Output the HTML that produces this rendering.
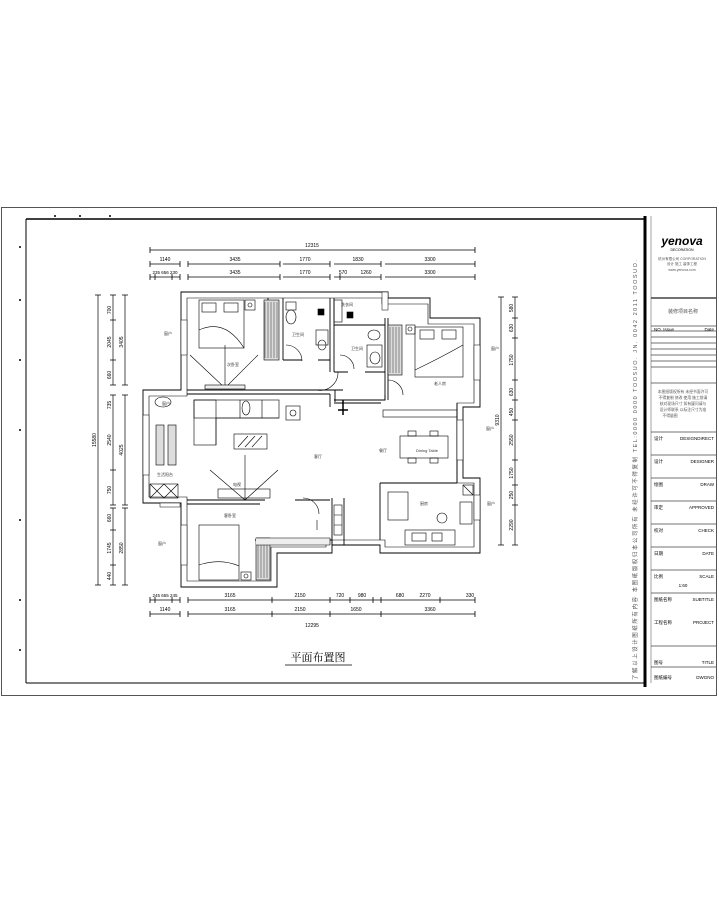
<!DOCTYPE html>
<html><head><meta charset="utf-8"><style>
html,body{margin:0;padding:0;background:#fff;}
svg{display:block;font-family:"Liberation Sans","Noto Sans CJK SC",sans-serif;}
</style></head><body>
<svg width="719" height="900" viewBox="0 0 719 900" xmlns="http://www.w3.org/2000/svg">
<rect width="719" height="900" fill="#fff"/>
<!-- frames -->
<rect x="1.5" y="207.5" width="715" height="488" fill="none" stroke="#555" stroke-width="1"/>
<line x1="26" y1="219" x2="645" y2="219" stroke="#000" stroke-width="1.5"/>
<line x1="26" y1="219" x2="26" y2="683" stroke="#000" stroke-width="1"/>
<line x1="26" y1="683" x2="645" y2="683" stroke="#000" stroke-width="1"/>
<line x1="645" y1="216" x2="645" y2="687" stroke="#000" stroke-width="3"/>
<line x1="651" y1="216" x2="651" y2="683" stroke="#666" stroke-width="0.6"/>
<g fill="#000"><circle cx="55" cy="216" r="1"/><circle cx="80" cy="216" r="1"/><circle cx="110" cy="216" r="1"/><circle cx="20" cy="247" r="1"/><circle cx="20" cy="300" r="1"/><circle cx="20" cy="360" r="1"/><circle cx="20" cy="430" r="1"/><circle cx="20" cy="520" r="1"/><circle cx="20" cy="600" r="1"/><circle cx="20" cy="650" r="1"/></g>
<!-- vertical text strip -->
<text transform="translate(637,680) rotate(-90)" font-size="5.5" fill="#555" textLength="420">了解以上设计图纸所有内容 本图纸版权归本公司所有 未经许可不得复制 TEL:0000 0000 TOOSUO. JN. 0042 2011 TOOSUO.</text>
<!-- title block -->
<g stroke="#444" stroke-width="0.8">
<line x1="651" y1="298" x2="716" y2="298" stroke-width="1.5"/>
<line x1="651" y1="326" x2="716" y2="326"/>
<line x1="651" y1="331" x2="716" y2="331"/>
<line x1="651" y1="337" x2="716" y2="337"/>
<line x1="651" y1="343" x2="716" y2="343"/>
<line x1="651" y1="349" x2="716" y2="349"/>
<line x1="651" y1="355" x2="716" y2="355"/>
<line x1="651" y1="361" x2="716" y2="361"/>
<line x1="651" y1="367" x2="716" y2="367"/>
<line x1="651" y1="383" x2="716" y2="383"/>
<line x1="651" y1="432" x2="716" y2="432"/>
<line x1="651" y1="455" x2="716" y2="455"/>
<line x1="651" y1="478" x2="716" y2="478"/>
<line x1="651" y1="501" x2="716" y2="501"/>
<line x1="651" y1="524" x2="716" y2="524"/>
<line x1="651" y1="547" x2="716" y2="547"/>
<line x1="651" y1="570" x2="716" y2="570"/>
<line x1="651" y1="593" x2="716" y2="593"/>
<line x1="651" y1="646" x2="716" y2="646"/>
<line x1="651" y1="667" x2="716" y2="667"/>
</g>
<text x="682" y="245" font-size="12" font-weight="bold" font-style="italic" text-anchor="middle">yenova</text>
<text x="682" y="251" font-size="3.5" text-anchor="middle">DECORATION</text>
<text x="682" y="260" font-size="3.5" text-anchor="middle" fill="#555">杭州有限公司 CORPORATION</text>
<text x="682" y="265" font-size="3.5" text-anchor="middle" fill="#555">设计 施工 装饰工程</text>
<text x="682" y="271" font-size="3.5" text-anchor="middle" fill="#555">www.yenova.com</text>
<text x="683" y="313" font-size="5" text-anchor="middle" fill="#555">装修项目名称</text>
<text x="654" y="331" font-size="4.5">NO. Issue</text><text x="714" y="331" font-size="4.5" text-anchor="end">Date</text>
<g font-size="3.8" fill="#555" text-anchor="middle">
<text x="683" y="393">本图纸版权所有 未经书面许可</text>
<text x="683" y="399">不得复制 修改 使用 施工前请</text>
<text x="683" y="405">核对现场尺寸 如有疑问请与</text>
<text x="683" y="411">设计师联系 以标注尺寸为准</text>
<text x="670" y="417">不得量图</text>
</g>
<g font-size="4.5">
<text x="654" y="440">设计</text><text x="714" y="440" text-anchor="end">DESIGNDIRECT</text>
<text x="654" y="463">设计</text><text x="714" y="463" text-anchor="end">DESIGNER</text>
<text x="654" y="486">绘图</text><text x="714" y="486" text-anchor="end">DRAW</text>
<text x="654" y="509">审定</text><text x="714" y="509" text-anchor="end">APPROVED</text>
<text x="654" y="532">校对</text><text x="714" y="532" text-anchor="end">CHECK</text>
<text x="654" y="555">日期</text><text x="714" y="555" text-anchor="end">DATE</text>
<text x="654" y="578">比例</text><text x="714" y="578" text-anchor="end">SCALE</text>
<text x="683" y="587" text-anchor="middle">1:60</text>
<text x="654" y="601">图纸名称</text><text x="714" y="601" text-anchor="end">SUBTITLE</text>
<text x="654" y="624">工程名称</text><text x="714" y="624" text-anchor="end">PROJECT</text>
<text x="654" y="664">图号</text><text x="714" y="664" text-anchor="end">TITLE</text>
<text x="654" y="679">图纸编号</text><text x="714" y="679" text-anchor="end">DWGNO</text>
</g>
<!-- dimension lines -->
<g stroke="#000" stroke-width="0.7" fill="none">
<line x1="150" y1="250" x2="475" y2="250"/>
<line x1="150" y1="264" x2="180" y2="264"/><line x1="188" y1="264" x2="280" y2="264"/><line x1="283" y1="264" x2="330" y2="264"/><line x1="334" y1="264" x2="381" y2="264"/><line x1="385" y1="264" x2="475" y2="264"/>
<line x1="150" y1="277" x2="180" y2="277"/><line x1="188" y1="277" x2="280" y2="277"/><line x1="283" y1="277" x2="330" y2="277"/><line x1="334" y1="277" x2="381" y2="277"/><line x1="385" y1="277" x2="475" y2="277"/>
<line x1="150" y1="600" x2="180" y2="600"/><line x1="188" y1="600" x2="475" y2="600"/>
<line x1="150" y1="614" x2="180" y2="614"/><line x1="188" y1="614" x2="475" y2="614"/>
<line x1="98" y1="295" x2="98" y2="585"/>
<line x1="113" y1="295" x2="113" y2="385"/><line x1="113" y1="395" x2="113" y2="505"/><line x1="113" y1="508" x2="113" y2="585"/>
<line x1="125" y1="295" x2="125" y2="385"/><line x1="125" y1="395" x2="125" y2="505"/><line x1="125" y1="508" x2="125" y2="585"/>
<line x1="501" y1="297" x2="501" y2="545"/><line x1="515" y1="297" x2="515" y2="545"/>
</g>
<g stroke="#000" stroke-width="0.8">
<path d="M150 247v6M475 247v6M150 261v6M180 261v6M188 261v6M280 261v6M330 261v6M381 261v6M475 261v6M150 274v6M155 274v6M172 274v6M180 274v6M188 274v6M280 274v6M330 274v6M340 274v6M381 274v6M475 274v6"/>
<path d="M150 597v6M155 597v6M172 597v6M180 597v6M188 597v6M272 597v6M330 597v6M350 597v6M373 597v6M381 597v6M440 597v6M475 597v6M150 611v6M180 611v6M188 611v6M272 611v6M330 611v6M381 611v6M475 611v6"/>
<path d="M95 295h6M95 585h6M110 295h6M110 320h6M110 360h6M110 385h6M110 395h6M110 470h6M110 505h6M110 508h6M110 530h6M110 565h6M110 585h6M122 295h6M122 385h6M122 395h6M122 505h6M122 508h6M122 585h6"/>
<path d="M498 297h6M498 545h6M512 297h6M512 318h6M512 338h6M512 380h6M512 400h6M512 420h6M512 460h6M512 485h6M512 505h6M512 545h6"/>
</g>
<g font-size="5" text-anchor="middle">
<text x="312" y="247">12315</text>
<text x="165" y="261">1140</text><text x="235" y="261">3435</text><text x="305" y="261">1770</text><text x="358" y="261">1830</text><text x="430" y="261">3300</text>
<text x="165" y="274" font-size="4.5">235 656 230</text><text x="235" y="274">3435</text><text x="305" y="274">1770</text><text x="343" y="274">570</text><text x="366" y="274">1260</text><text x="430" y="274">3300</text>
<text x="165" y="597" font-size="4.5">245 655 245</text><text x="230" y="597">3165</text><text x="300" y="597">2150</text><text x="340" y="597">720</text><text x="362" y="597">980</text><text x="400" y="597">680</text><text x="425" y="597">2270</text><text x="470" y="597">330</text>
<text x="165" y="611">1140</text><text x="230" y="611">3165</text><text x="300" y="611">2150</text><text x="356" y="611">1650</text><text x="430" y="611">3360</text>
<text x="312" y="627">12295</text>
</g>
<g font-size="5" text-anchor="middle">
<text transform="translate(96,440) rotate(-90)">15580</text>
<text transform="translate(111,310) rotate(-90)">700</text><text transform="translate(111,342) rotate(-90)">2045</text><text transform="translate(111,375) rotate(-90)">660</text>
<text transform="translate(111,405) rotate(-90)">735</text><text transform="translate(111,440) rotate(-90)">2540</text><text transform="translate(111,490) rotate(-90)">750</text>
<text transform="translate(111,518) rotate(-90)">660</text><text transform="translate(111,548) rotate(-90)">1745</text><text transform="translate(111,576) rotate(-90)">440</text>
<text transform="translate(123,342) rotate(-90)">3405</text><text transform="translate(123,450) rotate(-90)">4025</text><text transform="translate(123,548) rotate(-90)">2850</text>
<text transform="translate(499,420) rotate(-90)">9310</text>
<text transform="translate(513,308) rotate(-90)">580</text><text transform="translate(513,328) rotate(-90)">630</text><text transform="translate(513,360) rotate(-90)">1750</text><text transform="translate(513,392) rotate(-90)">630</text><text transform="translate(513,412) rotate(-90)">450</text><text transform="translate(513,440) rotate(-90)">2550</text><text transform="translate(513,473) rotate(-90)">1750</text><text transform="translate(513,495) rotate(-90)">250</text><text transform="translate(513,525) rotate(-90)">2290</text>
</g>
<!-- walls -->
<g stroke="#000" stroke-width="0.9" fill="none">
<path d="M181 292H388V298H430V318H480V407H463V478H480V553H380V545H332V553H277V587H181V503H143V390H181Z"/>
<path d="M187 298H382V304H428V324H474V403H457V483H474V547H385V540H326V547H271V581H187V497H149V396H187Z" stroke-width="0.6"/>
<!-- interior walls -->
<path d="M187 390H343M187 394H330"/>
<path d="M330 394V407M335 390V402"/>
<path d="M187 504H260M187 500H265M295 500H330"/>
<path d="M334 400H385V395M334 403H381"/>
<path d="M385 318V400M388 318V400"/>
<path d="M268 298V360M283 298V360M283 360H302M318 360H330"/>
<path d="M330 298V372M334 298V372M334 372H348M365 372H385M334 325H385"/>
<path d="M457 403V483M380 483H457M380 483V540"/>
<path d="M332 498V545M344 498V545"/>
<path d="M255 540H332V545"/>
</g>
<!-- windows -->
<g stroke="#000" stroke-width="0.5" fill="#fff">
<rect x="181" y="320" width="6" height="35"/><rect x="181" y="525" width="6" height="40"/><rect x="143" y="415" width="6" height="60"/>
<rect x="474" y="345" width="6" height="35"/><rect x="457" y="420" width="6" height="40"/><rect x="474" y="495" width="6" height="25"/>
<rect x="382" y="292" width="6" height="18"/><rect x="160" y="503" width="20" height="4"/>
</g>
<!-- furniture -->
<g stroke="#000" stroke-width="0.6" fill="none">
<!-- bedroom top-left -->
<rect x="199" y="300" width="45" height="48"/><rect x="202" y="303" width="14" height="9"/><rect x="224" y="303" width="14" height="9"/>
<path d="M199 330Q225 318 244 348"/>
<rect x="245" y="300" width="10" height="10"/><circle cx="250" cy="305" r="2"/>
<rect x="264" y="300" width="15" height="60" fill="#ddd"/>
<path d="M265 302V358M268 302V358M271 302V358M274 302V358M277 302V358" stroke-width="0.4"/>
<path d="M190 355L225 388L258 355M225 345V388"/>
<rect x="205" y="385" width="40" height="4" fill="#eee"/>
<!-- bath 1 -->
<rect x="286" y="302" width="10" height="8"/><ellipse cx="291" cy="317" rx="5" ry="7"/>
<rect x="316" y="330" width="12" height="15"/><ellipse cx="322" cy="345" rx="4" ry="5"/>
<rect x="318" y="309" width="6" height="6" fill="#000"/>
<path d="M286 345A16 16 0 0 1 302 361"/>
<!-- bath 2 -->
<rect x="334" y="300" width="8" height="22"/><rect x="347" y="312" width="6" height="6" fill="#000"/>
<ellipse cx="374" cy="335" rx="6" ry="5"/><rect x="367" y="345" width="15" height="22"/><ellipse cx="375" cy="358" rx="5" ry="6"/>
<path d="M340 355A14 14 0 0 1 354 369M338 372A18 18 0 0 1 316 390"/>
<!-- bedroom right -->
<rect x="388" y="325" width="14" height="50" fill="#ddd"/>
<path d="M390 327V373M393 327V373M396 327V373M399 327V373" stroke-width="0.4"/>
<rect x="415" y="327" width="48" height="50"/><rect x="420" y="330" width="14" height="9"/><rect x="442" y="330" width="14" height="9"/>
<path d="M415 370Q440 358 463 345"/>
<rect x="406" y="325" width="9" height="9"/><circle cx="410" cy="329" r="2"/>
<path d="M388 380A15 15 0 0 1 403 395"/>
<rect x="383" y="410" width="74" height="7"/>
<!-- living -->
<rect x="194" y="400" width="85" height="18"/><rect x="194" y="400" width="22" height="45"/>
<path d="M216 418H279M216 418V445M240 400V418M262 400V418"/>
<ellipse cx="246" cy="408" rx="4" ry="7"/>
<rect x="286" y="406" width="14" height="14"/><circle cx="293" cy="413" r="3"/>
<rect x="234" y="434" width="33" height="15"/><path d="M238 447L248 436M245 447L255 436M252 447L262 436"/>
<path d="M210 470L245 500L278 470M245 455V500"/>
<rect x="218" y="489" width="52" height="9"/>
<!-- dining -->
<rect x="400" y="436" width="48" height="22"/><rect x="408" y="431" width="8" height="5"/><rect x="430" y="431" width="8" height="5"/><rect x="408" y="458" width="8" height="5"/><rect x="430" y="458" width="8" height="5"/>
<!-- balcony -->
<ellipse cx="163" cy="402" rx="8" ry="5"/>
<rect x="156" y="425" width="8" height="40" fill="#ddd"/><rect x="168" y="425" width="8" height="40" fill="#ddd"/>
<rect x="150" y="484" width="28" height="14"/><path d="M150 484L164 498M164 484L150 498M164 484L178 498M178 484L164 498"/>
<!-- bedroom bottom -->
<rect x="199" y="525" width="40" height="55"/><path d="M199 565Q220 558 239 566"/>
<rect x="241" y="572" width="10" height="8"/><circle cx="246" cy="576" r="2"/>
<rect x="256" y="538" width="14" height="42" fill="#ddd"/>
<path d="M258 540V578M261 540V578M264 540V578M267 540V578" stroke-width="0.4"/>
<path d="M256 538H330V545H256" fill="#eee"/>
<path d="M303 498A16 16 0 0 1 319 514M317 520V530"/>
<rect x="334" y="505" width="8" height="30"/><path d="M334 515H342M334 525H342"/>
<!-- kitchen -->
<rect x="388" y="492" width="20" height="28"/><rect x="405" y="530" width="50" height="15"/>
<rect x="463" y="485" width="10" height="10"/><path d="M463 485L473 495"/>
<rect x="460" y="502" width="12" height="22"/><circle cx="442" cy="518" r="5"/>
<rect x="412" y="533" width="14" height="8"/><rect x="432" y="533" width="10" height="8"/>
<path d="M343 400V415M338 410H348" stroke-width="1.5"/>
</g>
<!-- room labels -->
<g font-size="4" fill="#333" text-anchor="middle">
<text x="233" y="366">次卧室</text><text x="298" y="336">卫生间</text><text x="357" y="350">卫生间</text><text x="347" y="306">洗衣间</text>
<text x="440" y="385">老人房</text><text x="318" y="458">客厅</text><text x="383" y="452">餐厅</text><text x="427" y="452">Dining Table</text>
<text x="237" y="486">电视</text><text x="165" y="476">生活阳台</text><text x="230" y="517">客卧室</text><text x="424" y="505">厨房</text>
<text x="168" y="335">窗户</text><text x="166" y="405">窗户</text><text x="162" y="545">窗户</text><text x="495" y="350">窗户</text><text x="490" y="430">窗户</text><text x="491" y="505">窗户</text>
</g>
<!-- title -->
<text x="318" y="661" font-size="11" text-anchor="middle" font-family="Liberation Serif,'Noto Serif CJK SC',serif">平面布置图</text>
<line x1="285" y1="665" x2="352" y2="665" stroke="#000" stroke-width="0.8"/>
</svg>
</body></html>
